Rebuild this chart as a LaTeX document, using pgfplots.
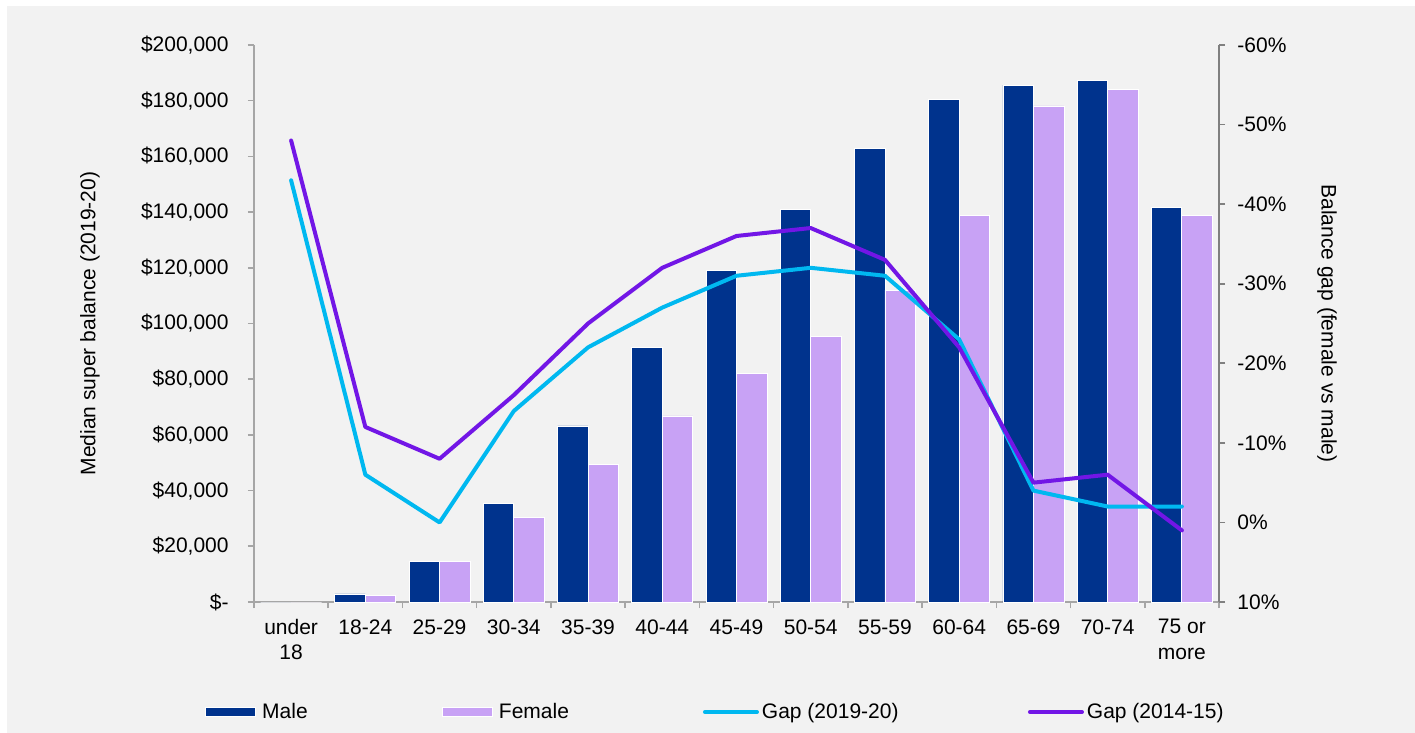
\documentclass[border=0pt]{standalone}
\usepackage{fontspec}
\setmainfont{Liberation Sans}
\usepackage{pgfplots}
\usepackage{pgfplotstable}
\pgfplotsset{compat=1.18}
\definecolor{male}{RGB}{0,51,141}
\definecolor{female}{RGB}{200,162,245}
\definecolor{gapnew}{RGB}{0,184,240}
\definecolor{gapold}{RGB}{114,22,230}
\definecolor{bg}{RGB}{242,242,242}
\definecolor{axl}{RGB}{166,166,166}
\definecolor{axr}{RGB}{128,128,128}

\pgfplotstableread{
x male female
0 0 0
1 2900 2500
2 14500 14500
3 35400 30400
4 63200 49500
5 91500 66800
6 119000 82100
7 141100 95300
8 162800 112000
9 180500 138700
10 185600 178100
11 187300 183900
12 141800 138700
}\balances

\pgfplotstableread{
x new old
0 -43 -48
1 -6 -12
2 0 -8
3 -14 -16
4 -22 -25
5 -27 -32
6 -31 -36
7 -32 -37
8 -31 -33
9 -23 -22
10 -4 -5
11 -2 -6
12 -2 1
}\gaps

\begin{document}
\fontsize{10.5bp}{12.6bp}\selectfont
\begin{tikzpicture}
\useasboundingbox (-127bp,-65.5bp) rectangle (580.5bp,301bp);
\fill[white] (-127bp,-65.5bp) rectangle (580.5bp,301bp);
\fill[bg] (-123.5bp,-65.5bp) rectangle (580.5bp,298bp);
\begin{axis}[
  at={(0,0)}, anchor=south west,
  scale only axis, width=482.5bp, height=278.5bp,
  font=\fontsize{10.5bp}{12.6bp}\selectfont,
  xmin=-0.5, xmax=12.5, ymin=0, ymax=200000,
  scaled y ticks=false,
  ybar=0pt, bar width=15.25bp,
  axis x line*=bottom, axis y line*=left,
  axis line style={axl, line width=0.8bp},
  tick align=outside, major tick length=3bp, minor tick length=3bp,
  xtick={0,...,12},
  xticklabels={{under\\18},18-24,25-29,30-34,35-39,40-44,45-49,50-54,55-59,60-64,65-69,70-74,{75 or\\more}},
  minor xtick={-0.5,0.5,...,12.5},
  major x tick style={draw=none},
  minor x tick style={axl, line width=0.8bp},
  ytick={0,20000,...,200000},
  yticklabels={\$-,{\$20,000},{\$40,000},{\$60,000},{\$80,000},{\$100,000},{\$120,000},{\$140,000},{\$160,000},{\$180,000},{\$200,000}},
  ytick style={axl, line width=0.8bp},
  xticklabel style={align=center, yshift=-2bp},
  yticklabel style={xshift=-6bp},
  ylabel={Median super balance (2019-20)},
  ylabel style={at={(axis description cs:-0.170,0.5)}, anchor=center},
  clip=false,
]
\addplot[fill=male, draw=white, line width=0.4bp] table[x=x,y=male]{\balances};
\addplot[fill=female, draw=white, line width=0.4bp] table[x=x,y=female]{\balances};
\end{axis}
\begin{axis}[
  at={(0,0)}, anchor=south west,
  scale only axis, width=482.5bp, height=278.5bp,
  font=\fontsize{10.5bp}{12.6bp}\selectfont,
  xmin=-0.5, xmax=12.5, ymin=-60, ymax=10, y dir=reverse,
  axis x line=none, axis y line*=right,
  axis line style={axr, line width=0.8bp},
  tick align=outside, major tick length=3bp,
  ytick={-60,-50,...,10},
  yticklabels={-60\%,-50\%,-40\%,-30\%,-20\%,-10\%,0\%,10\%},
  ytick style={axr, line width=0.8bp},
  yticklabel style={xshift=2.5bp},
  ylabel={Balance gap (female vs male)},
  ylabel style={at={(axis description cs:1.112,0.5)}, anchor=center, rotate=180},
  legend columns=4,
  legend style={at={(axis description cs:-0.0508,-0.1975)}, anchor=west,
    draw=none, fill=none, inner sep=0pt, column sep=0pt,
    nodes={inner sep=0pt, font=\fontsize{10.5bp}{12.6bp}\selectfont}},
  legend cell align=left,
  clip=false,
]
\addlegendimage{legend image code/.code={\fill[male, draw=white, line width=0.4bp] (0bp,-2.25bp) rectangle (25bp,2.25bp); \path (28bp,0bp);}}
\addlegendentry{\makebox[90bp][l]{Male}}
\addlegendimage{legend image code/.code={\fill[female, draw=white, line width=0.4bp] (0bp,-2.25bp) rectangle (25bp,2.25bp); \path (28bp,0bp);}}
\addlegendentry{\makebox[101bp][l]{Female}}
\addplot[gapnew, line width=2bp, line join=round, line cap=round, mark=none,
  legend image code/.code={\draw[gapnew, line width=2bp, line cap=round] (1bp,0bp) -- (27bp,0bp); \path (0bp,0bp) (28.5bp,0bp);}]
  table[x=x,y=new]{\gaps};
\addlegendentry{\makebox[132bp][l]{Gap (2019-20)}}
\addplot[gapold, line width=2bp, line join=round, line cap=round, mark=none,
  legend image code/.code={\draw[gapold, line width=2bp, line cap=round] (1bp,0bp) -- (27bp,0bp); \path (0bp,0bp) (28.5bp,0bp);}]
  table[x=x,y=old]{\gaps};
\addlegendentry{Gap (2014-15)}
\end{axis}
\end{tikzpicture}
\end{document}
